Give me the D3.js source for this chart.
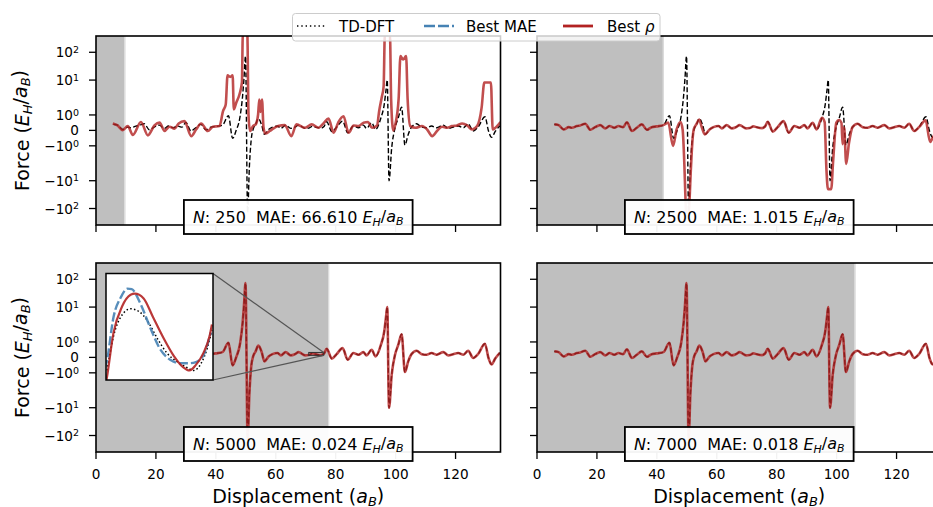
<!DOCTYPE html>
<html>
<head>
<meta charset="utf-8">
<script src="https://cdn.jsdelivr.net/npm/d3@7"></script>
<style>
  body { margin: 0; background: #fff; }
  svg { display: block; font-family: "DejaVu Sans", sans-serif; }
</style>
</head>
<body>
<svg id="chart" width="933" height="507"></svg>
<script>
const xTicks = [0, 20, 40, 60, 80, 100, 120]
const yTicks = [-100, -10, -1, 0, 1, 10, 100]
const xDomain = [0, 135]
const yDomain = [-392, 385]

// TD-DFT reference force, [displacement, force]
const tddft = [[5.8,0.39],[7.2,0.34],[8.9,0.06],[10.6,0.21],[11.7,0.17],[13.3,0.28],[14.4,0.32],[16.1,0.43],[17.8,0.04],[19.4,0.21],[21.1,0.34],[22.8,0.13],[24.2,0.28],[25.8,0.17],[27.2,0.28],[28.7,0.21],[30.0,0.52],[31.7,-0.04],[33.3,0.17],[35.0,0.39],[36.7,0.04],[38.3,0.21],[40.0,0.26],[42.2,0.34],[44.2,0.95],[45.6,-0.52],[46.7,-0.04],[48.1,0.92],[48.9,2.5],[49.4,12],[49.9,73],[50.6,-140],[51.2,-3],[51.8,-0.6],[52.5,0.1],[53.2,0.36],[54.2,0.76],[55.3,0.34],[56.2,-0.26],[57.6,0.06],[58.9,0.21],[60.6,0.28],[61.7,0.13],[63.3,0.34],[65.0,0.13],[66.4,0.21],[67.6,0.34],[69.8,0.13],[71.0,0.15],[72.2,0.26],[73.4,0.2],[75.1,0.15],[76.1,0.25],[77.0,0.56],[78.7,-0.08],[80.3,0.21],[82.3,0.6],[84.0,-0.15],[85.9,0.28],[87.6,0.17],[89.2,0.34],[90.3,0.13],[92.0,0.49],[93.3,0.06],[95.1,0.82],[96.2,1.68],[96.8,4.5],[97.2,10],[97.8,-10],[98.7,-1.1],[99.8,0.17],[100.9,0.82],[102.0,1.5],[103.1,-0.95],[104.2,-0.26],[105.3,0.21],[107.0,0.43],[108.7,0.21],[110.3,0.17],[112.0,0.28],[113.7,0.17],[115.9,0.34],[117.6,0.13],[119.2,0.21],[120.9,0.28],[122.6,0.17],[124.2,0.43],[125.9,-0.04],[127.5,0.21],[129.8,0.88],[131.0,-0.04],[132.0,-0.45],[133.3,-0.05],[134.8,0.3]]

// best-rho model predictions per training size
const rho250 = [[5.6,0.45],[7.2,0.32],[8.9,0.02],[10.6,0.28],[12.3,-0.3],[15.0,0.54],[17.3,-0.32],[19.5,0.32],[21.2,0.5],[22.9,-0.04],[24.5,0.24],[26.2,0.11],[27.6,0.45],[29.5,0.6],[31.8,-0.37],[33.4,0.06],[35.1,0.45],[37.3,-0.04],[39.0,0.24],[41.2,0.28],[42.4,1.25],[43.3,1.68],[43.9,14.8],[44.8,13],[45.6,14.8],[46.0,1.36],[46.8,1.79],[47.9,3.1],[48.7,8.2],[49.0,450],[50.5,450],[50.9,1.0],[51.4,-0.04],[52.4,0.28],[53.3,0.39],[54.1,1.03],[54.5,2.0],[54.9,1.2],[55.4,2.0],[55.9,0.2],[56.5,-0.2],[58.0,-0.04],[59.1,0.11],[60.8,0.28],[63.0,0.34],[65.2,-0.37],[66.9,0.39],[69.8,0.17],[72.0,0.39],[74.2,0.17],[75.9,0.45],[77.6,0.76],[79.3,-0.15],[80.9,0.54],[82.6,0.92],[84.3,-0.15],[86.0,0.32],[87.6,0.28],[89.3,0.5],[90.8,0.54],[92.1,0.17],[93.8,0.32],[94.5,1.25],[95.4,2.5],[96.0,6],[96.4,450],[98.1,450],[98.5,2],[99.2,0.0],[99.9,0.39],[101.0,2.1],[101.6,73],[102.5,55],[103.5,73],[104.0,2.1],[104.9,0.28],[106.6,0.17],[108.8,0.28],[110.5,0.06],[112.2,-0.37],[113.8,-0.04],[115.5,0.24],[117.2,0.17],[118.8,0.28],[120.5,0.32],[122.2,0.45],[123.9,0.32],[125.5,0.06],[127.2,0.28],[128.7,1.47],[129.6,8.2],[131.8,8.2],[132.4,0.06],[133.3,0.17],[135.0,0.54]]

const rho2500 = [[5.8,0.39],[7.2,0.34],[8.9,0.06],[10.6,0.21],[11.7,0.17],[13.3,0.28],[14.4,0.32],[16.1,0.43],[17.8,0.04],[19.4,0.21],[21.1,0.34],[22.8,0.13],[24.2,0.28],[25.8,0.17],[27.2,0.28],[28.7,0.21],[30.0,0.52],[31.7,-0.04],[33.3,0.17],[35.0,0.39],[36.7,0.04],[38.3,0.21],[40.0,0.26],[42.2,0.34],[43.8,0.5],[45.4,-1.0],[46.6,0.06],[47.9,0.54],[48.6,0.06],[49.2,-3],[49.5,-30],[49.8,-140],[50.7,-140],[51.0,-30],[51.3,-5],[51.7,-1.2],[52.3,0.06],[53.2,0.4],[54.1,0.7],[55.0,0.2],[56.0,-0.26],[57.6,0.06],[58.9,0.21],[60.6,0.28],[61.7,0.13],[63.3,0.34],[65.0,0.13],[66.4,0.21],[67.6,0.34],[69.8,0.13],[71.0,0.15],[72.2,0.26],[73.4,0.2],[75.1,0.15],[76.1,0.25],[77.0,0.56],[78.7,-0.08],[80.3,0.21],[82.3,0.6],[84.0,-0.15],[85.9,0.28],[87.6,0.17],[89.2,0.34],[90.3,0.13],[92.0,0.49],[93.3,0.06],[95.1,0.82],[96.0,0.54],[96.6,-4],[97.1,-20],[98.2,-20],[98.8,-2.2],[99.9,0.5],[100.8,0.67],[101.6,0.5],[102.0,-0.9],[102.5,0.2],[103.2,-2.5],[104.1,-0.85],[105.3,0.21],[107.0,0.43],[108.7,0.21],[110.3,0.17],[112.0,0.28],[113.7,0.17],[115.9,0.34],[117.6,0.13],[119.2,0.21],[120.9,0.28],[122.6,0.17],[124.2,0.43],[125.9,-0.04],[127.5,0.21],[129.7,0.65],[131.2,-0.75],[132.0,-0.5],[133.3,-0.05],[134.8,0.3]]

// at N=5000 and N=7000 the prediction sits on top of TD-DFT
const rho5000 = tddft
const rho7000 = tddft

const trainN = [250, 2500, 5000, 7000]
const maeText = ['66.610', '1.015', '0.024', '0.018']
const shadeEnd = [9.5, 42, 77.5, 106]

// zoomed window shown in the N=5000 inset
const insetXDomain = [71, 76]
const insetYDomain = [0.13, 0.32]
const insetTddft = [[71.05,0.147],[71.35,0.208],[71.75,0.246],[72.15,0.257],[72.55,0.252],[72.95,0.235],[73.4,0.204],[73.85,0.178],[74.35,0.162],[74.75,0.153],[75.1,0.147],[75.45,0.16],[75.75,0.189],[75.95,0.219]]
const insetMae = [[70.95,0.15],[71.05,0.166],[71.35,0.242],[71.7,0.278],[72.0,0.293],[72.2,0.292],[72.6,0.267],[73.05,0.225],[73.5,0.187],[74.0,0.166],[74.45,0.16],[74.9,0.16],[75.2,0.162],[75.55,0.174],[75.75,0.195],[75.9,0.215]]
const insetRho = [[70.98,0.12],[71.05,0.136],[71.35,0.214],[71.75,0.261],[72.15,0.282],[72.35,0.284],[72.75,0.276],[73.2,0.242],[73.7,0.204],[74.15,0.174],[74.6,0.153],[74.9,0.147],[75.2,0.157],[75.55,0.178],[75.85,0.21],[75.95,0.229]]

const red = '#b22222'
const blue = '#4682b4'

// matplotlib style symlog, linthresh 2, linscale 1
const LT = 2, LS = 1 / (1 - 1 / 10)
const symlog = v => Math.abs(v) <= LT ? v * LS : Math.sign(v) * LT * (LS + Math.log10(Math.abs(v) / LT))

const svg = d3.select('#chart')
const pw = 404.5, ph = 189

const x = d3.scaleLinear().domain(xDomain).range([0, pw])
const yLin = d3.scaleLinear().domain(yDomain.map(symlog)).range([ph, 0])
const y = v => yLin(symlog(v))

const line = d3.line().x(d => x(d[0])).y(d => y(d[1])).curve(d3.curveMonotoneX)

const panels = [
  { left: 96, top: 36, rho: rho250, ylab: true, xlab: false },
  { left: 537, top: 36, rho: rho2500, ylab: false, xlab: false },
  { left: 96, top: 263, rho: rho5000, ylab: true, xlab: true },
  { left: 537, top: 263, rho: rho7000, ylab: false, xlab: true }
]

const sup = (sel, v) => {
  if (v === 0) { sel.text('0'); return }
  sel.append('tspan').text((v < 0 ? '\u2212' : '') + '10')
  sel.append('tspan').attr('dy', '-0.45em').attr('font-size', '9.5px').text(Math.round(Math.log10(Math.abs(v))))
}

panels.forEach((p, i) => {
  const g = svg.append('g').attr('transform', `translate(${p.left},${p.top})`)
  const clipId = 'clip' + i
  g.append('clipPath').attr('id', clipId).append('rect').attr('width', pw).attr('height', ph)

  g.append('rect').attr('width', pw).attr('height', ph).attr('fill', '#fff')
  g.append('rect').attr('width', x(shadeEnd[i])).attr('height', ph).attr('fill', '#bfbfbf')
  g.append('line')
    .attr('x1', x(shadeEnd[i]) + 0.5).attr('x2', x(shadeEnd[i]) + 0.5)
    .attr('y1', 0).attr('y2', ph)
    .attr('stroke', '#d9d9d9').attr('stroke-width', 1.2)

  const plot = g.append('g').attr('clip-path', `url(#${clipId})`)
  plot.append('path').datum(tddft).attr('d', line)
    .attr('fill', 'none').attr('stroke', '#000').attr('stroke-width', 1.4)
    .attr('stroke-dasharray', '5,2.4')
  plot.append('path').datum(p.rho).attr('d', line)
    .attr('fill', 'none').attr('stroke', red).attr('stroke-width', 2.6)
    .attr('stroke-opacity', 0.8).attr('stroke-linejoin', 'round')

  // ticks
  g.selectAll('.xt').data(xTicks).enter().append('line')
    .attr('x1', d => x(d)).attr('x2', d => x(d))
    .attr('y1', ph).attr('y2', ph + 7)
    .attr('stroke', '#000').attr('stroke-width', 1.3)
  g.selectAll('.yt').data(yTicks).enter().append('line')
    .attr('x1', -7).attr('x2', 0)
    .attr('y1', d => y(d)).attr('y2', d => y(d))
    .attr('stroke', '#000').attr('stroke-width', 1.3)

  if (p.xlab) {
    g.selectAll('.xl').data(xTicks).enter().append('text')
      .attr('x', d => x(d)).attr('y', ph + 26.5)
      .attr('text-anchor', 'middle').attr('font-size', '13.6px')
      .text(d => d)
    const xt = g.append('text').attr('x', pw / 2).attr('y', ph + 51)
      .attr('text-anchor', 'middle').attr('font-size', '19px')
    xt.append('tspan').text('Displacement (')
    xt.append('tspan').attr('font-style', 'italic').text('a')
    xt.append('tspan').attr('font-style', 'italic').attr('font-size', '13px').attr('dy', '0.2em').text('B')
    xt.append('tspan').attr('dy', '-0.2em').text(')')
  }
  if (p.ylab) {
    g.selectAll('.yl').data(yTicks).enter().append('text')
      .attr('x', -17).attr('y', d => y(d) + 5)
      .attr('text-anchor', 'end').attr('font-size', '13.6px')
      .each(function (d) { sup(d3.select(this), d) })
    const yt = g.append('text')
      .attr('transform', `translate(${28.5 - p.left},${ph / 2}) rotate(-90)`)
      .attr('text-anchor', 'middle').attr('font-size', '19px')
    yt.append('tspan').text('Force (')
    yt.append('tspan').attr('font-style', 'italic').text('E')
    yt.append('tspan').attr('font-style', 'italic').attr('font-size', '13px').attr('dy', '0.25em').text('H')
    yt.append('tspan').attr('dy', '-0.25em').text('/')
    yt.append('tspan').attr('font-style', 'italic').text('a')
    yt.append('tspan').attr('font-style', 'italic').attr('font-size', '13px').attr('dy', '0.25em').text('B')
    yt.append('tspan').attr('dy', '-0.25em').text(')')
  }

  g.append('rect').attr('width', pw).attr('height', ph)
    .attr('fill', 'none').attr('stroke', '#000').attr('stroke-width', 1.6)

  // N / MAE box
  const bx = g.append('g')
  const box = bx.append('rect')
  const t = bx.append('text').attr('x', pw / 2).attr('y', ph - 2)
    .attr('text-anchor', 'middle').attr('font-size', '16px').style('white-space', 'pre')
  t.append('tspan').attr('font-style', 'italic').text('N')
  t.append('tspan').text(`: ${trainN[i]}  MAE: ${maeText[i]} `)
  t.append('tspan').attr('font-style', 'italic').text('E')
  t.append('tspan').attr('font-style', 'italic').attr('font-size', '11px').attr('dy', '0.25em').text('H')
  t.append('tspan').attr('dy', '-0.25em').text('/')
  t.append('tspan').attr('font-style', 'italic').text('a')
  t.append('tspan').attr('font-style', 'italic').attr('font-size', '11px').attr('dy', '0.25em').text('B')
  const bb = t.node().getBBox()
  box.attr('x', pw / 2 - bb.width / 2 - 9).attr('width', bb.width + 18)
    .attr('y', ph - 25).attr('height', 34)
    .attr('fill', '#fff').attr('fill-opacity', 0.95)
    .attr('stroke', '#000').attr('stroke-width', 1.8)

  if (i === 2) {
    // inset zoom of the N=5000 panel
    const ix = d3.scaleLinear().domain(insetXDomain).range([0, 107])
    const iy = d3.scaleLinear().domain(insetYDomain).range([106.5, 0])
    const iline = d3.line().x(d => ix(d[0])).y(d => iy(d[1])).curve(d3.curveMonotoneX)
    const ox = 10, oy = 10.5
    const r = { x0: x(insetXDomain[0]), x1: x(insetXDomain[1]), y0: y(insetYDomain[1]), y1: y(insetYDomain[0]) }
    g.append('rect').attr('x', r.x0).attr('y', r.y0)
      .attr('width', r.x1 - r.x0).attr('height', r.y1 - r.y0)
      .attr('fill', 'none').attr('stroke', '#333').attr('stroke-width', 1)
    g.append('line').attr('x1', ox + 107).attr('y1', oy).attr('x2', r.x1).attr('y2', r.y0)
      .attr('stroke', '#555').attr('stroke-width', 1.2)
    g.append('line').attr('x1', ox + 107).attr('y1', oy + 106.5).attr('x2', r.x1).attr('y2', r.y1)
      .attr('stroke', '#555').attr('stroke-width', 1.2)

    const ig = g.append('g').attr('transform', `translate(${ox},${oy})`)
    ig.append('clipPath').attr('id', 'iclip').append('rect').attr('width', 107).attr('height', 106.5)
    ig.append('rect').attr('width', 107).attr('height', 106.5).attr('fill', '#fff')
    const ip = ig.append('g').attr('clip-path', 'url(#iclip)')
    ip.append('path').datum(insetTddft).attr('d', iline).attr('fill', 'none')
      .attr('stroke', '#000').attr('stroke-width', 1.5).attr('stroke-dasharray', '1.5,2.3')
    ip.append('path').datum(insetMae).attr('d', iline).attr('fill', 'none')
      .attr('stroke', blue).attr('stroke-width', 2.4).attr('stroke-dasharray', '9,3')
      .attr('stroke-opacity', 0.9)
    ip.append('path').datum(insetRho).attr('d', iline).attr('fill', 'none')
      .attr('stroke', red).attr('stroke-width', 2.2).attr('stroke-opacity', 0.9)
    ig.append('rect').attr('width', 107).attr('height', 106.5)
      .attr('fill', 'none').attr('stroke', '#000').attr('stroke-width', 1.5)
  }
})

// figure legend
const lg = svg.append('g')
lg.append('rect').attr('x', 292.5).attr('y', 13.5).attr('width', 367.5).attr('height', 27.5)
  .attr('rx', 3).attr('fill', '#fff').attr('fill-opacity', 0.8)
  .attr('stroke', '#cccccc').attr('stroke-width', 1)
const legendItems = [
  { label: 'TD-DFT', x: 297, tx: 339, stroke: '#000', w: 1.5, dash: '1.4,2.9' },
  { label: 'Best MAE', x: 424, tx: 466, stroke: blue, w: 2.4, dash: '11,3' },
  { label: 'Best ', x: 563, tx: 607, stroke: red, w: 2.8, dash: null }
]
legendItems.forEach(d => {
  lg.append('line').attr('x1', d.x).attr('x2', d.x + 30).attr('y1', 26).attr('y2', 26)
    .attr('stroke', d.stroke).attr('stroke-width', d.w)
    .attr('stroke-dasharray', d.dash)
  const t = lg.append('text').attr('x', d.tx).attr('y', 31.5).attr('font-size', '15px').text(d.label)
  if (d.label === 'Best ') t.append('tspan').attr('font-style', 'italic').text('\u03c1')
})
</script>
</body>
</html>
